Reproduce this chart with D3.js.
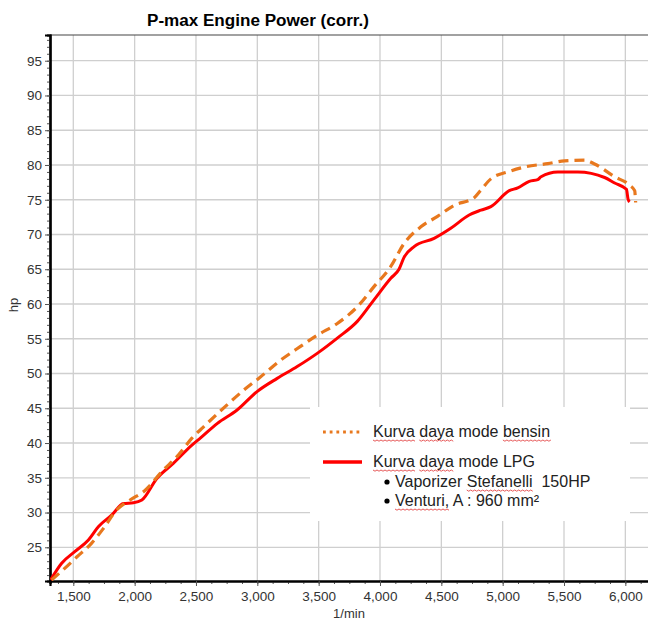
<!DOCTYPE html>
<html>
<head>
<meta charset="utf-8">
<script src="https://cdn.jsdelivr.net/npm/d3@7"></script>
<style>
  body { margin: 0; background: #fff; }
  svg { font-family: Arial, "Liberation Sans", sans-serif; }
</style>
</head>
<body>
<div id="chart"></div>
<script>
// engine power curves
var rpmLpg = [1315, 1405, 1514, 1623, 1704, 1814, 1909, 1990, 2059, 2181, 2317, 2467, 2535, 2672, 2835, 2998,
  3162, 3325, 3488, 3652, 3815, 3951, 4088, 4155, 4196, 4278, 4441, 4577, 4727, 4823, 4904, 5054, 5123,
  5217, 5286, 5313, 5449, 5613, 5831, 5913, 6009, 6022, 6035];
var hpLpg = [20.3, 22.7, 24.4, 26.05, 27.96, 29.65, 31.3, 31.4, 31.8, 34.9, 37.1, 39.7, 40.7, 42.8, 44.75, 47.4,
  49.3, 51.0, 52.9, 55.1, 57.5, 60.6, 63.7, 65.0, 66.7, 68.25, 69.45, 70.9, 72.8, 73.5, 74.0, 76.3, 76.7,
  77.65, 77.9, 78.3, 79.0, 79.0, 78.2, 77.4, 76.5, 75.1, 74.7];

var rpmBensin = [1323, 1432, 1528, 1650, 1745, 1855, 1963, 2086, 2222, 2358, 2467, 2560, 2760, 2889, 3025,
  3189, 3352, 3488, 3652, 3815, 3951, 4088, 4196, 4333, 4469, 4605, 4768, 4823, 4904, 5041, 5177, 5368,
  5504, 5667, 5749, 5913, 6035, 6076, 6084];
var hpBensin = [20.3, 22.0, 23.6, 25.6, 27.7, 30.4, 31.8, 33.2, 35.9, 38.3, 40.7, 42.3, 45.6, 47.6, 49.5,
  51.9, 53.9, 55.5, 57.2, 59.6, 62.5, 65.4, 68.7, 71.1, 72.6, 74.2, 75.3, 76.4, 78.0, 79.0, 79.7, 80.2,
  80.6, 80.7, 80.15, 78.3, 77.1, 76.3, 74.6];

var xTicks = [1500, 2000, 2500, 3000, 3500, 4000, 4500, 5000, 5500, 6000];
var yTicks = [25, 30, 35, 40, 45, 50, 55, 60, 65, 70, 75, 80, 85, 90, 95];

var legendItems = ["Kurva daya mode bensin", "Kurva daya mode LPG"];
var legendNotes = [["Vaporizer ", "Stefanelli", "  150HP"], ["", "Venturi,", " A : 960 mm\u00b2"]];

(function() {
var width = 648, height = 620;
var pLeft = 50, pRight = 650, pTop = 35, pBottom = 581;

var svg = d3.select("#chart").append("svg")
  .attr("width", width)
  .attr("height", height);

var x = d3.scaleLinear().domain([1310, 6201]).range([pLeft, pRight]);
var y = d3.scaleLinear().domain([20.15, 98.7]).range([pBottom, pTop]);

svg.append("clipPath").attr("id", "plotclip")
  .append("rect")
  .attr("x", pLeft).attr("y", pTop)
  .attr("width", pRight - pLeft).attr("height", pBottom - pTop);

// grid
var grid = svg.append("g").attr("stroke", "#cfcfcf").attr("stroke-width", 1.3);
grid.selectAll(".vg").data(xTicks).enter().append("line")
  .attr("x1", function(d) { return x(d); }).attr("x2", function(d) { return x(d); })
  .attr("y1", pTop).attr("y2", pBottom);
grid.selectAll(".hg").data(yTicks).enter().append("line")
  .attr("x1", pLeft).attr("x2", pRight)
  .attr("y1", function(d) { return y(d); }).attr("y2", function(d) { return y(d); });

// top frame
svg.append("line")
  .attr("x1", pLeft).attr("x2", pRight)
  .attr("y1", pTop).attr("y2", pTop)
  .attr("stroke", "#444").attr("stroke-width", 1.2);

// axes
var xMinor = d3.range(1375, 6201, 125);
var yMinor = d3.range(21, 99, 1);

var xAxisMinor = d3.axisBottom(x).tickValues(xMinor).tickSize(3).tickFormat("");
var xAxis = d3.axisBottom(x).tickValues(xTicks).tickSize(5).tickPadding(5).tickFormat(d3.format(","));
var yAxisMinor = d3.axisLeft(y).tickValues(yMinor).tickSize(3).tickFormat("");
var yAxis = d3.axisLeft(y).tickValues(yTicks).tickSize(5).tickPadding(3);

svg.append("g").attr("transform", "translate(0," + pBottom + ")").call(xAxisMinor);
var gx = svg.append("g").attr("transform", "translate(0," + pBottom + ")").call(xAxis);
svg.append("g").attr("transform", "translate(" + pLeft + ",0)").call(yAxisMinor);
var gy = svg.append("g").attr("transform", "translate(" + pLeft + ",0)").call(yAxis);

svg.selectAll(".domain").attr("stroke", "#000").attr("stroke-width", 2.2);
svg.selectAll(".tick line").attr("stroke", "#555");
gx.selectAll("text").attr("font-size", "13.5px").attr("fill", "#333").attr("font-family", "Arial, 'Liberation Sans', sans-serif");
gy.selectAll("text").attr("font-size", "13.5px").attr("fill", "#333").attr("font-family", "Arial, 'Liberation Sans', sans-serif");

// curves
var lineGen = d3.line()
  .x(function(d) { return x(d[0]); })
  .y(function(d) { return y(d[1]); })
  .curve(d3.curveMonotoneX);

var lines = svg.append("g").attr("clip-path", "url(#plotclip)");

lines.append("path")
  .datum(d3.zip(rpmLpg, hpLpg))
  .attr("d", lineGen)
  .attr("fill", "none")
  .attr("stroke", "#ff0000")
  .attr("stroke-width", 3)
  .attr("stroke-linejoin", "round");

lines.append("path")
  .datum(d3.zip(rpmBensin, hpBensin))
  .attr("d", lineGen)
  .attr("fill", "none")
  .attr("stroke", "#e8781e")
  .attr("stroke-width", 3.2)
  .attr("stroke-dasharray", "10,6");

// title + axis labels
svg.append("text")
  .attr("x", 258).attr("y", 26)
  .attr("text-anchor", "middle")
  .attr("font-weight", "bold")
  .attr("font-size", "16px")
  .attr("textLength", 222)
  .attr("lengthAdjust", "spacingAndGlyphs")
  .text("P-max Engine Power (corr.)");

svg.append("text")
  .attr("transform", "translate(18,305) rotate(-90)")
  .attr("text-anchor", "middle")
  .attr("font-size", "13px")
  .attr("fill", "#333")
  .text("hp");

svg.append("text")
  .attr("x", 349).attr("y", 618)
  .attr("text-anchor", "middle")
  .attr("font-size", "13px")
  .attr("fill", "#333")
  .text("1/min");

// legend
var lg = svg.append("g");
lg.append("rect")
  .attr("x", 310).attr("y", 407)
  .attr("width", 320).attr("height", 114)
  .attr("fill", "#fff");

var flagged = [];  // tspans that get the spell-check squiggle

var swatch = [{ c: "#e8781e", dash: "2.8,3.9", w: 3 }, { c: "#ff0000", dash: null, w: 3.4 }];
legendItems.forEach(function(t, i) {
  var cy = 432 + i * 30;
  lg.append("line")
    .attr("x1", 323).attr("x2", 362)
    .attr("y1", cy).attr("y2", cy)
    .attr("stroke", swatch[i].c)
    .attr("stroke-width", swatch[i].w)
    .attr("stroke-dasharray", swatch[i].dash);

  var words = t.split(" ");
  var txt = lg.append("text")
    .attr("x", 373).attr("y", cy + 5)
    .attr("font-size", "16px")
    .attr("fill", "#222")
    .style("white-space", "pre");
  words.forEach(function(w, k) {
    var ts = txt.append("tspan").text(w);
    if (w == "Kurva" || w == "daya" || w == "bensin") flagged.push({ node: ts.node(), base: cy + 5 });
    if (k < words.length - 1) txt.append("tspan").text(" ");
  });
});

legendNotes.forEach(function(parts, i) {
  var by = 487 + i * 19;
  lg.append("circle")
    .attr("cx", 387).attr("cy", by - 5)
    .attr("r", 2.6)
    .attr("fill", "#000");
  var txt = lg.append("text")
    .attr("x", 395).attr("y", by)
    .attr("font-size", "16px")
    .attr("fill", "#222")
    .style("white-space", "pre");
  txt.append("tspan").text(parts[0]);
  var ts = txt.append("tspan").text(parts[1]);
  flagged.push({ node: ts.node(), base: by });
  txt.append("tspan").text(parts[2]);
});

// red wavy underline under flagged words
flagged.forEach(function(f) {
  var x0 = f.node.getStartPositionOfChar(0).x;
  var len = f.node.getComputedTextLength();
  var pts = [];
  for (var k = 0; k <= Math.round(len / 2); k++) {
    pts.push([x0 + k * 2, f.base + 3 + (k % 2 ? 1.2 : 0)]);
  }
  lg.append("path")
    .attr("d", d3.line()(pts))
    .attr("fill", "none")
    .attr("stroke", "#e03030")
    .attr("stroke-width", 0.8);
});
})();
</script>
</body>
</html>
